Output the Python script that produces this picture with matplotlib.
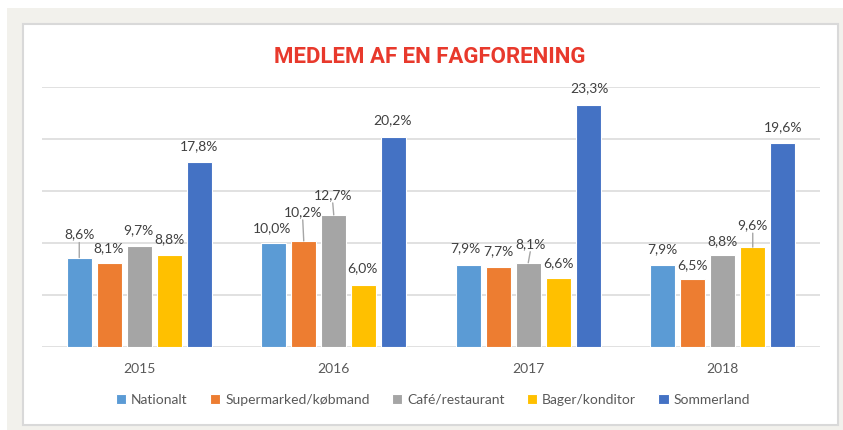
import matplotlib
matplotlib.use("Agg")
import matplotlib.pyplot as plt
from matplotlib.patches import Rectangle
import numpy as np

years = ["2015", "2016", "2017", "2018"]
series = ["Nationalt", "Supermarked/købmand", "Café/restaurant", "Bager/konditor", "Sommerland"]
nationalt = [8.6, 10.0, 7.9, 7.9]
supermarked = [8.1, 10.2, 7.7, 6.5]
cafe = [9.7, 12.7, 8.1, 8.8]
bager = [8.8, 6.0, 6.6, 9.6]
sommerland = [17.8, 20.2, 23.3, 19.6]
values = [nationalt, supermarked, cafe, bager, sommerland]

colors = ["#5B9BD5", "#ED7D31", "#A5A5A5", "#FFC000", "#4472C4"]

# label offsets in pixels (dx, dy above bar top to text centre) and leader flags
label_dx = [[0, -2, -3, 0], [-1, -1, 0, 0], [-1, -1, 2, 0], [0, -1, 0, 0], [0, -1, 1, 0]]
label_dy = [[23, 15, 17, 16], [15, 29, 16, 14], [16, 20, 19, 14], [16, 16, 15, 22], [16, 17, 17, 16]]
leader = [[True, False, False, False], [False, True, False, False],
          [False, True, True, False], [False, False, False, True],
          [False, False, False, False]]

W, H = 843, 430
fig = plt.figure(figsize=(W / 100, H / 100), dpi=100)
fig.patch.set_facecolor("white")
fig.patches.append(Rectangle((7 / W, 0), 1 - 7 / W, 1 - 8 / H, transform=fig.transFigure,
                             facecolor="#F2F1EC", edgecolor="none", zorder=-3))
fig.patches.append(Rectangle((23 / W, 5 / H), (838 - 23) / W, (425 - 24) / H,
                             transform=fig.transFigure, facecolor="white",
                             edgecolor="#D9D9D9", linewidth=1.5, zorder=-2))

ax = fig.add_axes([42 / W, (H - 347) / H, (820 - 42) / W, (347 - 87) / H])
ax.set_facecolor("none")
ax.set_xlim(-0.5, 3.5)
ax.set_ylim(0, 25)
ax.set_yticks(np.arange(0, 26, 5))
ax.yaxis.grid(True, color="#D9D9D9", linewidth=1.1)
ax.set_axisbelow(True)
for s in ax.spines.values():
    s.set_visible(False)
ax.tick_params(axis="y", left=False, labelleft=False)
ax.tick_params(axis="x", bottom=False, labelsize=10, labelcolor="#595959", pad=8)

x = np.arange(len(years))
pitch = 30 / 194.5
bw = 25 / 194.5
font = "Lato"
for i, (name, vals) in enumerate(zip(series, values)):
    pos = x + (i - 2) * pitch
    ax.bar(pos, vals, width=bw, color=colors[i], edgecolor="white", linewidth=0.8,
           label=name, zorder=2)
    for j, v in enumerate(vals):
        ax.annotate(f"{v:.1f}%".replace(".", ","), xy=(pos[j], v),
                    xytext=(label_dx[i][j], label_dy[i][j]), textcoords="offset pixels",
                    ha="center", va="center", fontsize=10, color="#404040",
                    family=font)
        if leader[i][j]:
            ax.annotate("", xy=(pos[j], v), xytext=(label_dx[i][j], label_dy[i][j] - 8),
                        textcoords="offset pixels",
                        arrowprops=dict(arrowstyle="-", color="#A6A6A6", lw=1,
                                        shrinkA=0, shrinkB=0))

ax.set_xticks(x)
ax.set_xticklabels(years, family=font)

leg = fig.legend(loc="center", bbox_to_anchor=(433 / W, 1 - 400 / H), ncol=5,
                 frameon=False, handlelength=0.75, handleheight=0.75,
                 handletextpad=0.35, columnspacing=1.6,
                 prop={"family": font, "size": 10})
for t in leg.get_texts():
    t.set_color("#595959")

fig.text(430 / W, 1 - 57 / H, "MEDLEM AF EN FAGFORENING", ha="center", va="center",
         fontsize=16, fontweight="bold", color="#E8392C", family="Roboto")

fig.savefig("out.png", dpi=100, facecolor=fig.get_facecolor())
